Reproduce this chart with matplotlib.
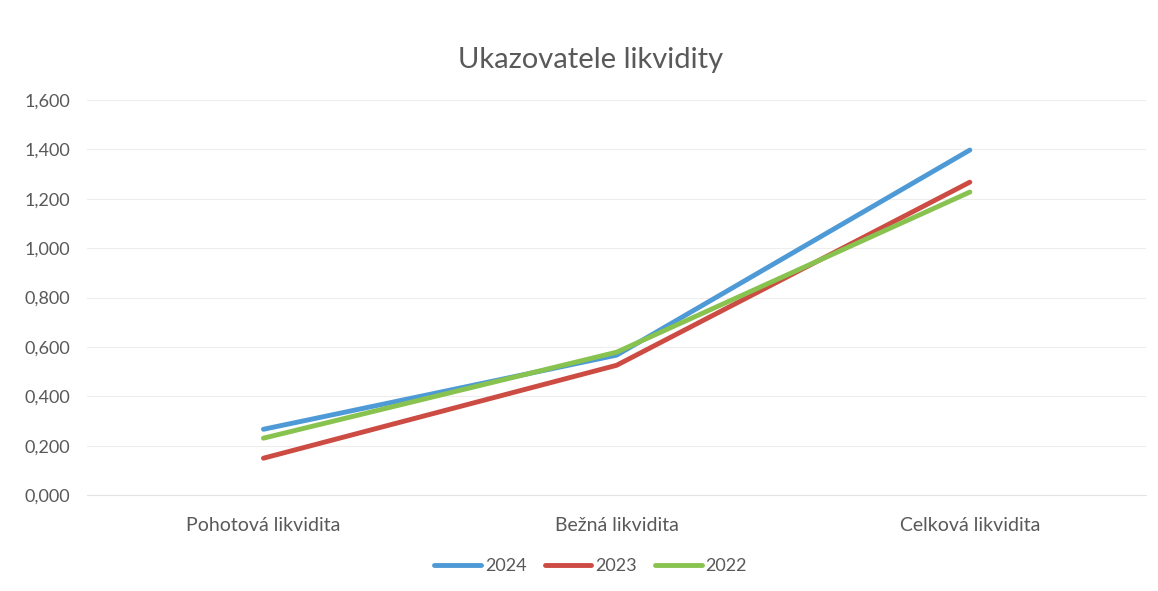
import matplotlib
matplotlib.use("Agg")
import matplotlib.pyplot as plt
from matplotlib.ticker import FuncFormatter, MultipleLocator

categories = ["Pohotová likvidita", "Bežná likvidita", "Celková likvidita"]
years = ["2024", "2023", "2022"]
values_2024 = [0.267, 0.567, 1.397]
values_2023 = [0.150, 0.526, 1.267]
values_2022 = [0.231, 0.579, 1.227]

COLORS = {
    "2024": "#4E9AD6",
    "2023": "#CC4B42",
    "2022": "#88C24F",
}
TEXT_GRAY = "#595959"

plt.rcParams["font.family"] = ["Lato", "DejaVu Sans"]

fig = plt.figure(figsize=(11.58, 5.91), dpi=100)
ax = fig.add_axes([0.075, 0.162, 0.915, 0.669])

x = list(range(len(categories)))
for year, vals in zip(years, [values_2024, values_2023, values_2022]):
    ax.plot(x, vals, color=COLORS[year], linewidth=3.5, solid_capstyle="round", label=year)

ax.set_xlim(-0.5, len(categories) - 0.5)
ax.set_ylim(0, 1.6)
ax.yaxis.set_major_locator(MultipleLocator(0.2))
ax.yaxis.set_major_formatter(FuncFormatter(lambda v, _: f"{v:.3f}".replace(".", ",")))
ax.set_xticks(x)
ax.set_xticklabels(categories)
ax.tick_params(axis="both", length=0, colors=TEXT_GRAY)
ax.tick_params(axis="x", pad=16, labelsize=14)
ax.tick_params(axis="y", pad=12, labelsize=13)
ax.grid(axis="y", color="#EDEDED", linewidth=0.8)
ax.set_axisbelow(True)
for side in ["top", "right", "left"]:
    ax.spines[side].set_visible(False)
ax.spines["bottom"].set_color("#E3E3E3")

fig.suptitle("Ukazovatele likvidity", x=0.51, y=0.92, fontsize=21, color=TEXT_GRAY)

fig.legend(loc="center", bbox_to_anchor=(0.51, 0.042), ncol=3, frameon=False,
           fontsize=13, labelcolor=TEXT_GRAY, handlelength=2.6, handletextpad=0.2,
           columnspacing=1.0)

fig.savefig("out.png", dpi=100, facecolor="white")
